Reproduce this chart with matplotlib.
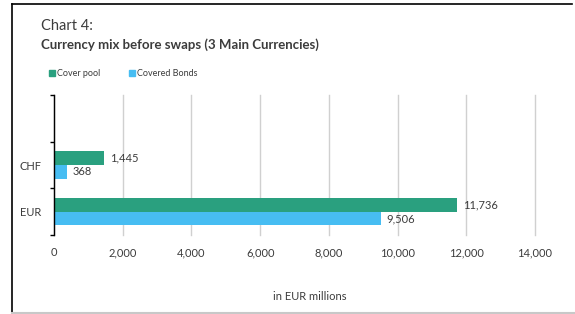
import matplotlib
matplotlib.use('Agg')
import matplotlib.pyplot as plt
from matplotlib.lines import Line2D
from matplotlib.patches import Rectangle

# data
categories = ["EUR", "CHF", ""]
cover_pool = [11736, 1445]
covered_bonds = [9506, 368]
x_ticks = [0, 2000, 4000, 6000, 8000, 10000, 12000, 14000]

GREEN = "#2aa07f"
BLUE = "#47bdf2"
TEXT = "#3c3c3c"

plt.rcParams['font.family'] = ['Lato', 'DejaVu Sans']

fig = plt.figure(figsize=(5.75, 3.14), dpi=100)
ax = fig.add_axes([54 / 575, 1 - 235 / 314, 481 / 575, 140 / 314])

h = 0.29
pos = list(range(len(cover_pool)))
ax.barh([p + h / 2 for p in pos], cover_pool, height=h, color=GREEN, zorder=3)
ax.barh([p - h / 2 for p in pos], covered_bonds, height=h, color=BLUE, zorder=3)

for p, v in zip(pos, cover_pool):
    ax.text(v + 180, p + h / 2, f"{v:,}", va='center', ha='left', fontsize=8, color=TEXT)
for p, v in zip(pos, covered_bonds):
    ax.text(v + 180, p - h / 2, f"{v:,}", va='center', ha='left', fontsize=8, color=TEXT)

ax.set_xlim(0, 14000)
ax.set_ylim(-0.5, len(categories) - 0.5)
ax.set_xticks(x_ticks)
ax.set_xticklabels([f"{t:,}" for t in x_ticks], fontsize=8, color=TEXT)
ax.set_yticks(range(len(categories)))
ax.set_yticklabels(categories, fontsize=8, color=TEXT)
ax.set_yticks([-0.5, 0.5, 1.5, 2.5], minor=True)
ax.tick_params(axis='y', which='major', length=0, pad=9)
ax.tick_params(axis='y', which='minor', length=3, width=1, color='black', direction='out')
ax.tick_params(axis='x', length=0, pad=9)
ax.grid(axis='x', color='#d0d0d0', linewidth=1, zorder=0)
for line in ax.get_xgridlines():
    line.set_clip_on(False)
for s in ['top', 'right', 'bottom']:
    ax.spines[s].set_visible(False)
ax.spines['left'].set_color('black')
ax.spines['left'].set_linewidth(1)
ax.spines['left'].set_zorder(4)

fig.text(310 / 575, 1 - 297 / 314, "in EUR millions", fontsize=8, color=TEXT,
         ha='center', va='center')

fig.text(41 / 575, 1 - 26 / 314, "Chart 4:", fontsize=10.5, color=TEXT, va='center')
fig.text(41 / 575, 1 - 45 / 314, "Currency mix before swaps (3 Main Currencies)",
         fontsize=9.5, fontweight='bold', color=TEXT, va='center')

# legend
fig.add_artist(Rectangle((49 / 575, 1 - 76 / 314), 6 / 575, 6 / 314, color=GREEN,
                         transform=fig.transFigure))
fig.text(57 / 575, 1 - 73 / 314, "Cover pool", fontsize=6.5, color=TEXT, va='center')
fig.add_artist(Rectangle((129 / 575, 1 - 76 / 314), 6 / 575, 6 / 314, color=BLUE,
                         transform=fig.transFigure))
fig.text(137 / 575, 1 - 73 / 314, "Covered Bonds", fontsize=6.5, color=TEXT, va='center')

# frame lines
fig.add_artist(Line2D([12 / 575, 572 / 575], [1 - 4 / 314, 1 - 4 / 314], color='black', lw=1.2))
fig.add_artist(Line2D([12 / 575, 12 / 575], [1 - 4 / 314, 0], color='black', lw=1.2))
fig.add_artist(Line2D([12 / 575, 1], [1 - 313 / 314, 1 - 313 / 314], color='#c8c8c8', lw=1.5))

fig.savefig("out.png", dpi=100)
